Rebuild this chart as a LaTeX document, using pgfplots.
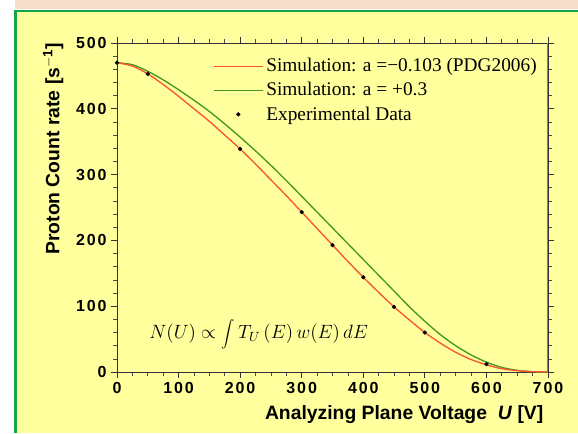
\documentclass[border=0pt]{standalone}
\usepackage{fontspec}
\setmainfont{Liberation Sans}
\newfontfamily\serif{Liberation Serif}
\newfontfamily\tickfont[LetterSpace=12]{Liberation Sans}
\usepackage{pgfplots}
\pgfplotsset{compat=1.18}
\definecolor{bgyellow}{RGB}{255,255,158}
\definecolor{frame}{RGB}{20,165,70}
\definecolor{topband}{RGB}{247,222,202}
\definecolor{simred}{RGB}{250,85,45}
\definecolor{simgreen}{RGB}{70,150,40}

\pgfplotsset{
    longline legend/.style={legend image code/.code={\draw[##1] (0cm,0cm) -- (1.3cm,0cm);}},
    dot legend/.style={legend image code/.code={\draw[##1] plot coordinates {(0.65cm,0cm)};}},
}

% red simulation, a = -0.103
\pgfplotstableread{
U N
0 470
25 465
50 453
75 437
100 419
125 400
150 381
175 360
200 339
225 316
250 292
275 268
300 243
325 218
350 193
375 168
400 144
425 121
450 99
475 79
500 60
525 44
550 30
575 19
600 11
625 5
650 2
675 0.4
700 0
}\redsim
% green simulation, a = +0.3
\pgfplotstableread{
U N
0 470
25 467
50 457
75 444
100 429
125 413
150 396
175 377
200 357
225 336
250 314
275 291
300 267
325 243
350 219
375 195
400 171
425 147
450 123
475 99
500 77
525 57
550 40
575 26
600 15
625 7
650 2.5
675 0.5
700 0
}\greensim
\pgfplotstableread{
U N
0 470
50 453
200 339
300 243
350 193
400 144
450 99
500 60
600 12
}\expdata

\begin{document}
\begin{tikzpicture}[x=0.75pt,y=0.75pt]
\path[use as bounding box] (0,0) rectangle (578,433);
\fill[white] (0,0) rectangle (578,433);
\fill[topband] (15,424) rectangle (578,433);
\fill[bgyellow] (16,0) rectangle (578,421.5);
\draw[frame,line width=2.2pt] (15.5,0) -- (15.5,422) -- (578,422);

\begin{axis}[
    at={(87.75pt,45.75pt)}, anchor=south west,
    scale only axis,
    width=323.25pt, height=246.75pt,
    xmin=0, xmax=700, ymin=0, ymax=500,
    xtick distance=100, ytick distance=100,
    minor x tick num=3, minor y tick num=4,
    tick align=outside,
    axis line style={black!80, line width=0.6pt},
    major tick style={black!80, line width=0.6pt},
    minor tick style={black!70, line width=0.5pt},
    /pgf/number format/assume math mode=true,
    ticklabel style={font=\tickfont\bfseries\fontsize{12}{13}\selectfont},
    xlabel={Analyzing Plane Voltage\ \ \textit{U} [V]},
    ylabel={Proton Count rate [s$^{\mathbf{-1}}$]},
    label style={font=\bfseries\fontsize{14.5}{16}\selectfont},
    xlabel style={at={(axis description cs:1,0)}, anchor=east, yshift=-32pt},
    ylabel style={at={(axis description cs:-0.148,1.015)}, anchor=east},
    legend style={
        at={(0.99,0.97)}, anchor=north east,
        draw=none, fill=none,
        font=\serif\fontsize{14.5}{17}\selectfont,
        row sep=2.5pt,
    },
    legend cell align=left,
]
\addplot[simgreen, line width=1pt, smooth, forget plot] table[x=U,y=N] {\greensim};
\addplot[simred, line width=1pt, smooth, longline legend] table[x=U,y=N] {\redsim};
\addlegendentry{Simulation: a =−0.103 (PDG2006)}
\addplot[simgreen, line width=1pt, draw opacity=0, longline legend,
    legend image post style={draw opacity=1}] table[x=U,y=N] {\greensim};
\addlegendentry{Simulation: a = +0.3}
\addplot[only marks, mark=*, mark size=1.4pt, black, dot legend] table[x=U,y=N] {\expdata};
\addlegendentry{Experimental Data}
\node[anchor=west, font=\serif\fontsize{13.8}{15}\selectfont] at (axis cs:45,58)
    {$\displaystyle N(U)\propto\int T_U\,(E)\,w(E)\,dE$};
\draw[simred, line width=0.8pt] (rel axis cs:1,0) -- (rel axis cs:1,1);
\end{axis}
\end{tikzpicture}
\end{document}
